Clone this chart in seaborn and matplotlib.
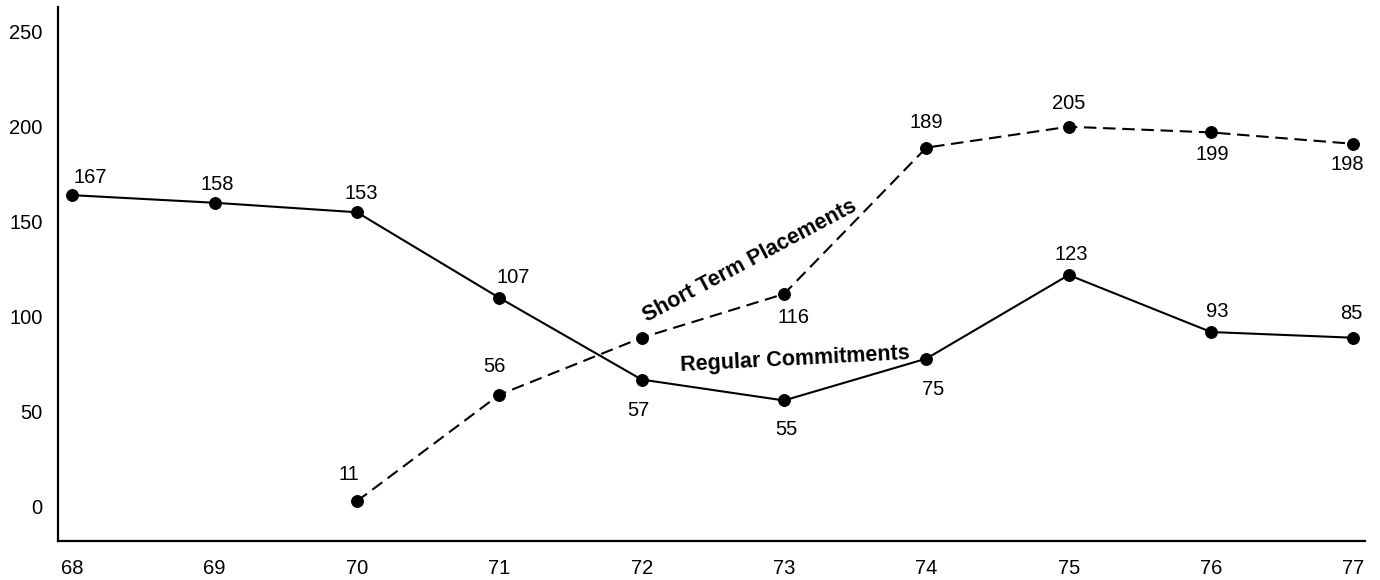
import matplotlib
matplotlib.use("Agg")
import matplotlib.pyplot as plt
import seaborn as sns
import pandas as pd

# ---- data ----
years = [68, 69, 70, 71, 72, 73, 74, 75, 76, 77]
regular_values = [164, 160, 155, 110, 67, 56, 78, 122, 92, 89]
regular_labels = ["167", "158", "153", "107", "57", "55", "75", "123", "93", "85"]

short_years = [70, 71, 72, 73, 74, 75, 76, 77]
short_values = [3, 59, 89, 112, 189, 200, 197, 191]
short_labels = ["11", "56", "", "116", "189", "205", "199", "198"]

y_ticks = [0, 50, 100, 150, 200, 250]
x_tick_labels = ["68", "69", "70", "71", "72", "73", "74", "75", "76", "77"]

regular_name = "Regular Commitments"
short_name = "Short Term Placements"

# ---- layout / style ----
regular_offsets = [(18, 18), (3, 18), (4, 19), (14, 20), (-3, -31),
                   (2, -29), (7, -31), (3, 21), (6, 21), (-2, 24)]
short_offsets = [(-8, 27), (-5, 28), (0, 0), (10, -23), (0, 25),
                 (0, 23), (1, -22), (-6, -21)]
num_size = 14.5
name_size = 15.5

sns.set_theme(style="white")
plt.rcParams["font.family"] = ["Liberation Sans", "DejaVu Sans"]

fig = plt.figure(figsize=(13.8, 5.8), dpi=100)
ax = fig.add_axes([0.042, 0.067, 0.947, 0.921])

df_reg = pd.DataFrame({"year": years, "value": regular_values})
df_short = pd.DataFrame({"year": short_years, "value": short_values})

sns.lineplot(data=df_reg, x="year", y="value", ax=ax, color="black",
             linewidth=1.5, marker="o", markersize=8.5, markeredgecolor="black")
sns.lineplot(data=df_short, x="year", y="value", ax=ax, color="black",
             linewidth=1.5, linestyle=(0, (6, 3.2)), marker="o", markersize=8.5,
             markeredgecolor="black")

for x, y, lab, off in zip(years, regular_values, regular_labels, regular_offsets):
    if lab:
        ax.annotate(lab, (x, y), xytext=off, textcoords="offset pixels",
                    ha="center", va="center", fontsize=num_size, color="black")
for x, y, lab, off in zip(short_years, short_values, short_labels, short_offsets):
    if lab:
        ax.annotate(lab, (x, y), xytext=off, textcoords="offset pixels",
                    ha="center", va="center", fontsize=num_size, color="black")

ax.text(72.76, 129.5, short_name, rotation=28, rotation_mode="anchor",
        ha="center", va="center", fontsize=name_size, fontweight="bold", color="black")
ax.text(73.08, 77.4, regular_name, rotation=3.0, rotation_mode="anchor",
        ha="center", va="center", fontsize=name_size, fontweight="bold", color="black")

ax.set_xlim(67.9, 77.08)
ax.set_ylim(-18, 263)
ax.set_xticks(years)
ax.set_xticklabels(x_tick_labels)
ax.set_yticks(y_ticks)
ax.set_xlabel("")
ax.set_ylabel("")

for side in ["top", "right"]:
    ax.spines[side].set_visible(False)
for side in ["left", "bottom"]:
    ax.spines[side].set_color("black")
    ax.spines[side].set_linewidth(1.6)

ax.tick_params(axis="both", which="both", direction="out", length=4, width=2.5,
               colors="black", labelsize=num_size)
ax.tick_params(axis="y", pad=7)
ax.tick_params(axis="x", pad=9)

fig.savefig("out.png", dpi=100, facecolor="white")
